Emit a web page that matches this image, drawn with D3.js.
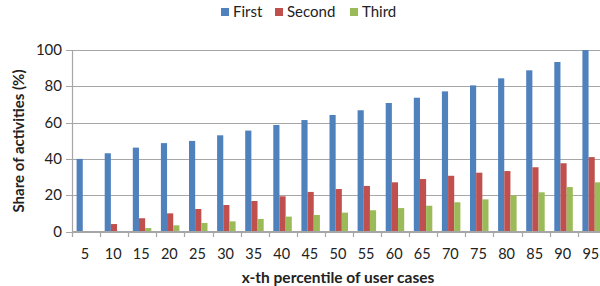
<!DOCTYPE html>
<html>
<head>
<meta charset="utf-8">
<script src="https://cdn.jsdelivr.net/npm/d3@7"></script>
<style>
  body { margin: 0; background: #fff; }
  svg { font-family: Lato, "Open Sans", sans-serif; }
</style>
</head>
<body>
<svg width="600" height="286"></svg>
<script>
var categories = ["5","10","15","20","25","30","35","40","45","50","55","60","65","70","75","80","85","90","95"];
var series = ["First", "Second", "Third"];
var colors = ["#4f81bd", "#c0504d", "#9bbb59"];
var first  = [40, 43.1, 46.2, 48.7, 49.9, 53.0, 55.6, 58.7, 61.4, 64.2, 66.8, 70.8, 73.7, 77.2, 80.5, 84.4, 88.8, 93.4, 100];
var second = [0, 4.1, 7.3, 10.0, 12.4, 14.6, 16.8, 19.4, 21.8, 23.4, 25.1, 27.1, 28.9, 30.7, 32.4, 33.3, 35.4, 37.6, 41.0];
var third  = [0, 0, 1.9, 3.4, 4.7, 5.6, 6.9, 8.2, 9.1, 10.4, 11.7, 12.9, 14.2, 16.1, 17.7, 19.9, 21.6, 24.5, 27.1];
var yTicks = [0, 20, 40, 60, 80, 100];

var svg = d3.select("svg");
var values = [first, second, third];

var x = d3.scaleBand().domain(categories).range([72, 72 + 19 * 28.1]).padding(0);
var x1 = d3.scaleBand().domain(series).range([4.6, x.bandwidth() - 5]);
var y = d3.scaleLinear().domain([0, 100]).range([231.5, 50]);

// gridlines
svg.append("g")
  .selectAll("line")
  .data(yTicks)
  .enter().append("line")
    .attr("x1", 66).attr("x2", 600)
    .attr("y1", function(d) { return Math.round(y(d)) + 0.5; })
    .attr("y2", function(d) { return Math.round(y(d)) + 0.5; })
    .attr("stroke", "#a6a6a6").attr("stroke-width", 1.2);

// y labels
svg.append("g")
  .selectAll("text")
  .data(yTicks)
  .enter().append("text")
    .attr("x", 62)
    .attr("y", function(d) { return y(d) + 5; })
    .attr("text-anchor", "end")
    .attr("font-size", 15)
    .attr("fill", "#222")
    .text(function(d) { return d; });

// bars
var groups = svg.append("g")
  .selectAll("g")
  .data(categories)
  .enter().append("g")
    .attr("transform", function(d) { return "translate(" + x(d) + ",0)"; });

groups.selectAll("rect")
  .data(function(d, i) {
    return series.map(function(s, j) { return { s: s, v: values[j][i], c: colors[j] }; });
  })
  .enter().append("rect")
    .attr("x", function(d) { return x1(d.s); })
    .attr("width", x1.bandwidth())
    .attr("y", function(d) { return y(d.v); })
    .attr("height", function(d) { return y(0) - y(d.v); })
    .attr("fill", function(d) { return d.c; });

// axes lines
svg.append("line")
  .attr("x1", 72.5).attr("x2", 72.5).attr("y1", 50).attr("y2", 232)
  .attr("stroke", "#a6a6a6").attr("stroke-width", 1.2);
svg.append("line")
  .attr("x1", 72).attr("x2", 600).attr("y1", 231.5).attr("y2", 231.5)
  .attr("stroke", "#a6a6a6").attr("stroke-width", 1.2);

// x tick marks between categories
svg.append("g")
  .selectAll("line")
  .data(categories.concat(["end"]))
  .enter().append("line")
    .attr("x1", function(d, i) { return Math.round(72 + i * x.step()) + 0.5; })
    .attr("x2", function(d, i) { return Math.round(72 + i * x.step()) + 0.5; })
    .attr("y1", 231.5).attr("y2", 237)
    .attr("stroke", "#a6a6a6").attr("stroke-width", 1.2);

// x labels
svg.append("g")
  .selectAll("text")
  .data(categories)
  .enter().append("text")
    .attr("x", function(d) { return x(d) + x.bandwidth() / 2 - 1; })
    .attr("y", 259)
    .attr("text-anchor", "middle")
    .attr("font-size", 14.5)
    .attr("fill", "#222")
    .text(function(d) { return d; });

// axis titles
svg.append("text")
  .attr("x", 338).attr("y", 283)
  .attr("text-anchor", "middle")
  .attr("font-size", 15.5).attr("font-weight", "bold")
  .attr("fill", "#222")
  .text("x-th percentile of user cases");

svg.append("text")
  .attr("transform", "translate(24,141) rotate(-90)")
  .attr("text-anchor", "middle")
  .attr("font-size", 15).attr("font-weight", "bold")
  .attr("fill", "#222")
  .text("Share of activities (%)");

// legend
var legendX = [221, 275, 350];
var legend = svg.append("g")
  .selectAll("g")
  .data(series)
  .enter().append("g")
    .attr("transform", function(d, i) { return "translate(" + legendX[i] + ",8)"; });
legend.append("rect")
  .attr("width", 8).attr("height", 8)
  .attr("fill", function(d, i) { return colors[i]; });
legend.append("text")
  .attr("x", 12).attr("y", 9)
  .attr("font-size", 15)
  .attr("fill", "#222")
  .text(function(d) { return d; });
</script>
</body>
</html>
